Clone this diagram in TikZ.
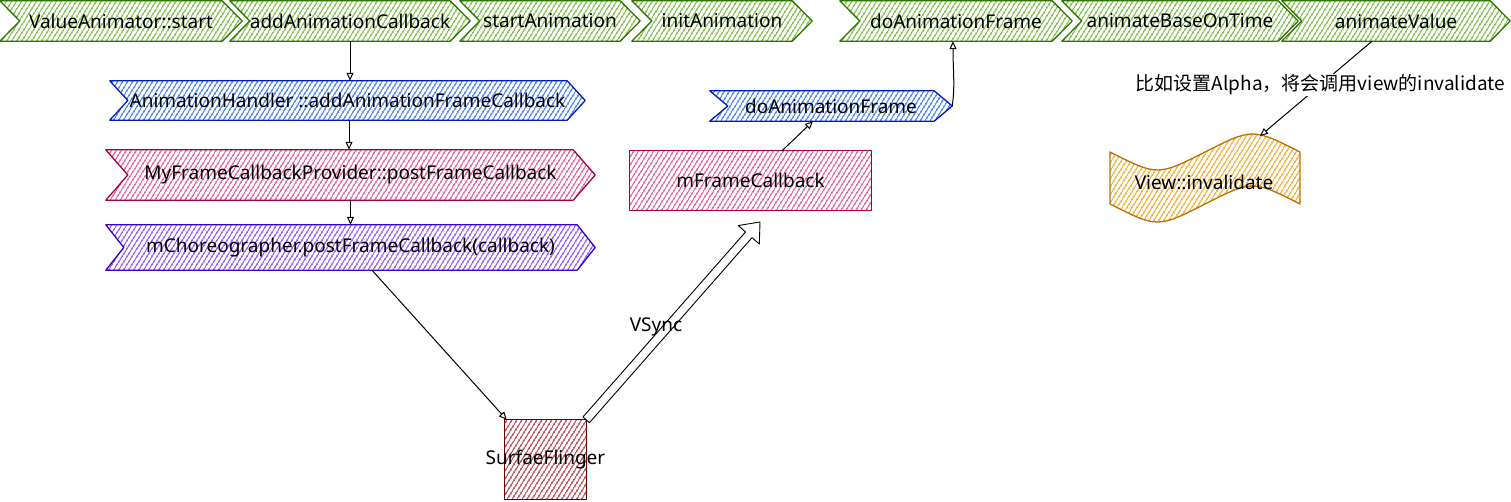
\documentclass[tikz,border=0pt]{standalone}
\usepackage{fontspec}
\setmainfont{Noto Sans}
\newfontfamily\cjk{Noto Sans CJK SC}
\usetikzlibrary{patterns.meta,arrows.meta,calc}
\pgfdeclarelayer{bg}
\pgfsetlayers{bg,main}
\definecolor{gS}{HTML}{2D7600}\definecolor{gF}{HTML}{8CC45E}
\definecolor{bS}{HTML}{001DBC}\definecolor{bF}{HTML}{5A8CF0}
\definecolor{pS}{HTML}{A50040}\definecolor{pF}{HTML}{E46EA4}
\definecolor{vS}{HTML}{3700CC}\definecolor{vF}{HTML}{9A68FF}
\definecolor{rS}{HTML}{6F0000}\definecolor{rF}{HTML}{C05868}
\definecolor{oS}{HTML}{BD7000}\definecolor{oF}{HTML}{F2B74A}
\tikzset{
  hatch/.style={pattern={Lines[angle=58,distance=4pt,line width=1.6pt]},pattern color=#1},
  txt/.style={font=\fontsize{19}{21}\selectfont,inner sep=0pt,text=black},
  arr/.style={-{Triangle[open,length=8pt,width=7pt]},line width=1pt},
  shapeline/.style={line width=1.3pt,line join=round}
}
\newcommand\chev[3]{%
  \path[shapeline,draw=#3S,hatch=#3F] (#1.north west) -- ([xshift=-#2pt]#1.north east) -- (#1.east)
    -- ([xshift=-#2pt]#1.south east) -- (#1.south west) -- ([xshift=#2pt]#1.west) -- cycle;}
\begin{document}
\begin{tikzpicture}[x=1pt,y=-1pt]
\useasboundingbox (0,0) rectangle (1511,501);
% top row
\node[txt,minimum width=242pt,minimum height=40pt] (va)  at (121,21)  {ValueAnimator::start};
\node[txt,minimum width=240pt,minimum height=40pt] (aac) at (350,21)  {addAnimationCallback};
\node[txt,minimum width=180pt,minimum height=40pt] (sa)  at (550,21)  {startAnimation};
\node[txt,minimum width=180pt,minimum height=40pt] (ia)  at (722,21)  {initAnimation};
\node[txt,minimum width=232pt,minimum height=40pt] (daf) at (956,21)  {doAnimationFrame};
\node[txt,minimum width=236pt,minimum height=40pt] (abt) at (1180,21) {animateBaseOnTime};
\node[txt,minimum width=228pt,minimum height=40pt] (av)  at (1396,21) {animateValue};
% left column
\node[txt,minimum width=475pt,minimum height=39pt] (ah) at (347.5,100.5) {AnimationHandler ::addAnimationFrameCallback};
\node[txt,minimum width=489pt,minimum height=50pt] (mf) at (350.5,175) {MyFrameCallbackProvider::postFrameCallback};
\node[txt,minimum width=489pt,minimum height=45pt] (mc) at (350.5,247.5) {mChoreographer.postFrameCallback(callback)};
% middle
\node[txt,minimum width=242pt,minimum height=30pt] (dab) at (831,106) {doAnimationFrame};
\node[txt,minimum width=241pt,minimum height=59pt] (mfc) at (750.5,180.5) {mFrameCallback};
\node[txt,minimum width=81pt,minimum height=79pt] (sf) at (545.5,459.5) {\makebox[0pt]{SurfaeFlinger}};
% right
\node[txt] (vi) at (1204,182) {View::invalidate};
\coordinate (vitop) at (1260,136);
\coordinate (vst) at (760,222);
% shapes
\begin{pgfonlayer}{bg}
  \chev{va}{20}{g}\chev{aac}{20}{g}\chev{sa}{20}{g}\chev{ia}{20}{g}
  \chev{daf}{20}{g}\chev{abt}{20}{g}\chev{av}{20}{g}
  \chev{ah}{18}{b}\chev{mf}{22}{p}\chev{mc}{18}{v}\chev{dab}{18}{b}
  \path[shapeline,draw=pS,hatch=pF] (mfc.north west) rectangle (mfc.south east);
  \path[shapeline,draw=rS,hatch=rF] (sf.north west) rectangle (sf.south east);
  \path[shapeline,draw=oS,hatch=oF] (1110,152) .. controls (1157.5,176) .. (1205,152)
     .. controls (1252.5,128) .. (1300,152) -- (1300,204) .. controls (1252.5,180) .. (1205,204)
     .. controls (1157.5,228) .. (1110,204) -- cycle;
\end{pgfonlayer}
% connectors
\draw[arr] (aac.south) -- (aac.south |- ah.north);
\draw[arr] ([xshift=1.5pt]ah.south) -- ([xshift=1.5pt]ah.south |- mf.north);
\draw[arr] (mf.south) -- (mf.south |- mc.north);
\draw[arr] ([xshift=21.5pt]mc.south) -- ([xshift=2pt]sf.north west);
\draw[arr] ([xshift=31.5pt]mfc.north) -- ([xshift=-18pt]dab.south);
\draw[arr] (dab.east) .. controls ($(dab.east)+(3,-20)$) and ($(daf.south)+(-3,30)$) .. ([xshift=-3pt]daf.south);
\draw[arr] ([xshift=-24pt]av.south) -- node[pos=0.46,fill=white,inner sep=1pt,font={\cjk\fontsize{19}{21}\selectfont}] (lbl) {比如设置Alpha，将会调用view的invalidate} (vitop);
% VSync flex arrow
\coordinate (vsa) at (sf.north east);
\coordinate (vsh) at ($(vst)!17pt!(vsa)$);
\draw[line width=0.9pt,fill=white,line join=round]
  ($(vsa)!4.3pt!90:(vst)$) -- ($(vsh)!4.3pt!90:(vst)$) -- ($(vsh)!14pt!90:(vst)$) -- (vst)
  -- ($(vsh)!14pt!-90:(vst)$) -- ($(vsh)!4.3pt!-90:(vst)$) -- ($(vsa)!4.3pt!-90:(vst)$) -- cycle;
\node[txt] (vsl) at (656,327) {VSync};
\end{tikzpicture}
\end{document}
